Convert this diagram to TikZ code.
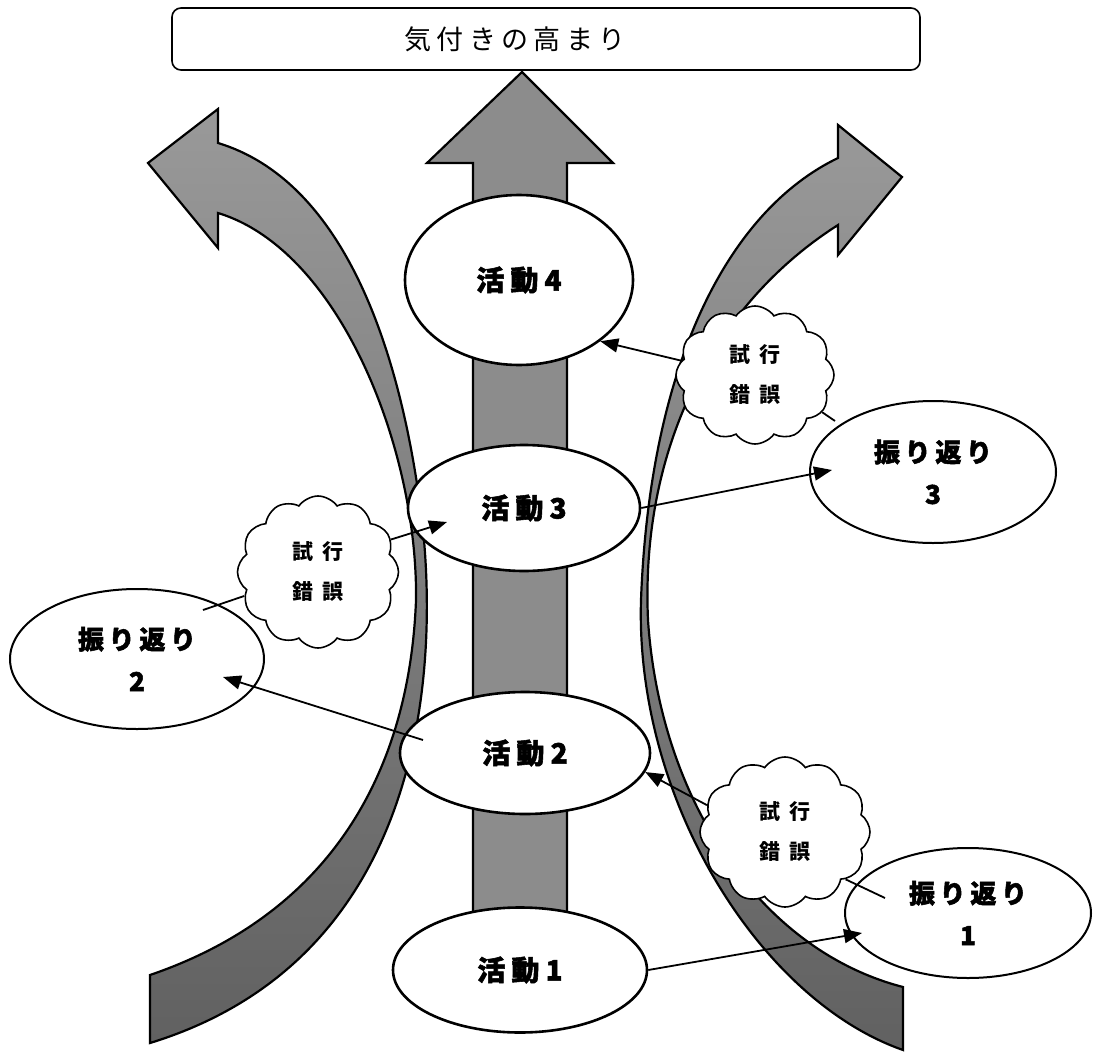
\documentclass[tikz,border=0pt]{standalone}
\usepackage{fontspec}
\usetikzlibrary{shapes.geometric,shapes.symbols,arrows.meta}
\newfontfamily\jpt{Noto Sans CJK JP}[LetterSpace=20]
\newfontfamily\jpa{Noto Sans CJK JP}[LetterSpace=22, BoldFeatures={FakeBold=2}]
\newfontfamily\jpr{Noto Sans CJK JP}[LetterSpace=18, BoldFeatures={FakeBold=2}]
\newfontfamily\jpc{Noto Sans CJK JP}[LetterSpace=40]
\newcommand\titlefont{\jpt\fontsize{27}{30}\selectfont}
\newcommand\actfont{\jpa\bfseries\fontsize{28}{30}\selectfont}
\newcommand\reflfont{\jpr\bfseries\fontsize{26}{42}\selectfont}
\newcommand\trialfont{\jpc\bfseries\fontsize{21}{40}\selectfont}
\begin{document}
\begin{tikzpicture}[x=1pt,y=-1pt,
  band/.style={draw=black, line width=2.2pt, line join=miter, top color=black!40, bottom color=black!62},
  shaft/.style={draw=black, line width=2.2pt, line join=miter, fill=black!45},
  act/.style={ellipse, draw, line width=2.6pt, fill=white, inner sep=0pt, font=\actfont},
  refl/.style={ellipse, draw, line width=2pt, fill=white, inner sep=0pt, align=center, font=\reflfont},
  trial/.style={cloud, cloud puffs=12, cloud puff arc=110, cloud ignores aspect, draw, line width=1.6pt, fill=white, inner sep=0pt, align=center, font=\trialfont},
  conn/.style={line width=1.8pt},
  arr/.style={conn, -{Triangle[length=18pt,width=14pt]}},
]
\fill[white] (0,0) rectangle (1093,1052);
\useasboundingbox (0,0) rectangle (1093,1052);

% left curved band
\path[band] (150,975) .. controls (340,910) and (410,760) .. (416,600)
  .. controls (418,450) and (340,250) .. (218,213)
  -- (218,248) -- (148,163) -- (218,109) -- (218,143)
  .. controls (340,180) and (400,340) .. (422,520)
  .. controls (440,680) and (420,960) .. (150,1043)
  -- cycle;

% right curved band
\path[band] (838,158) .. controls (730,210) and (650,360) .. (641,600)
  .. controls (635,800) and (760,1000) .. (903,1050)
  -- (903,987)
  .. controls (760,950) and (660,800) .. (648,620)
  .. controls (640,440) and (720,300) .. (838,225)
  -- (838,255) -- (902,177) -- (838,125) -- cycle;

% central arrow
\path[shaft] (473,930) -- (473,163) -- (427,163) -- (522,72) -- (613,163) -- (567,163) -- (567,930) -- cycle;

% title
\node[draw, rounded corners=9pt, line width=1.6pt, fill=white, minimum width=748pt, minimum height=62pt, inner sep=0pt, font=\titlefont] (title) at (546,39) {気付きの高まり\hspace*{62pt}};

% activities
\node[act, minimum width=228pt, minimum height=170pt] (a4) at (519,280) {活動4};
\node[act, minimum width=232pt, minimum height=126pt] (a3) at (524,508) {活動3};
\node[act, minimum width=250pt, minimum height=122pt] (a2) at (525,753) {活動2};
\node[act, minimum width=254pt, minimum height=125pt] (a1) at (520,970) {活動1};

% reflections
\node[refl, minimum width=246pt, minimum height=130pt] (r1) at (968,913) {振り返り\\1};
\node[refl, minimum width=254pt, minimum height=140pt] (r2) at (137,659) {振り返り\\2};
\node[refl, minimum width=246pt, minimum height=142pt] (r3) at (933,472) {振り返り\\3};

% trial and error clouds
\node[trial, minimum width=158pt, minimum height=138pt] (tA) at (755,375) {試行\\錯誤};
\node[trial, minimum width=161pt, minimum height=152pt] (tB) at (318,572) {試行\\錯誤};
\node[trial, minimum width=170pt, minimum height=150pt] (tC) at (785,832) {試行\\錯誤};

% connector end points
\coordinate (r1tip) at (862,933);
\coordinate (r1in) at (885,898);
\coordinate (a2in) at (423,740);
\coordinate (r2tip) at (223,677);
\coordinate (r2in) at (203,610);
\coordinate (a3tip) at (447,522);
\coordinate (r3tip) at (832,470);
\coordinate (r3in) at (835,421);

% connectors
\draw[arr] (a1.east) -- (r1tip);
\draw[conn] (r1in) -- (tC.-38);
\draw[arr] (tC.161) -- (a2.-9);
\draw[arr] (a2in) -- (r2tip);
\draw[conn] (r2in) -- (tB.198);
\draw[arr] (tB.24) -- (a3tip);
\draw[arr] (a3.east) -- (r3tip);
\draw[conn] (r3in) -- (tA.-29);
\draw[arr] (tA.169) -- (a4.-37);
\end{tikzpicture}
\end{document}
